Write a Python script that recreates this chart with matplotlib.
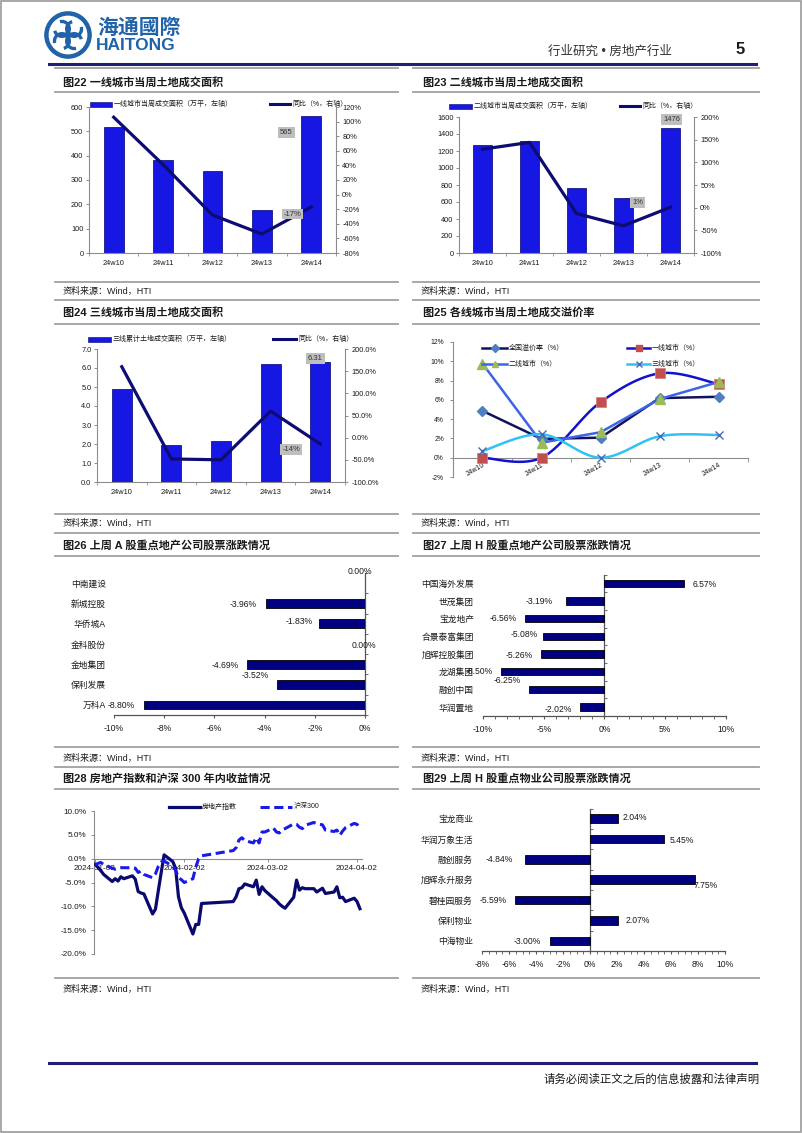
import numpy as np
import pandas as pd
import matplotlib
matplotlib.use("Agg")
import matplotlib.pyplot as plt
import matplotlib.dates as mdates
import matplotlib.ticker as mticker
from matplotlib.patches import Rectangle, Circle, Arc
from matplotlib.lines import Line2D

plt.rcParams['font.family'] = ['Liberation Sans', 'Noto Sans CJK SC', 'DejaVu Sans']
plt.rcParams['axes.unicode_minus'] = False

# ---------------- data ----------------
weeks = ['24w10', '24w11', '24w12', '24w13', '24w14']
t1_area = [517, 381, 339, 176, 565]
t1_yoy = [106, 41, -28, -54, -17]
t2_area = [1271, 1322, 761, 651, 1476]
t2_yoy = [129, 144, -13, -40, 1]
t3_area = [4.89, 1.95, 2.14, 6.19, 6.31]
t3_yoy = [160, -48, -50, 60, -14]

prem_all = [4.86, 1.95, 2.08, 6.18, 6.32]
prem_t1 = [0.0, 0.0, 5.76, 8.75, 7.64]
prem_t2 = [9.76, 1.56, 2.64, 6.08, 7.85]
prem_t3 = [0.69, 2.43, 0.0, 2.22, 2.36]

a_names = ['中南建设', '新城控股', '华侨城A', '金科股份', '金地集团', '保利发展', '万科A']
a_chg = [0.00, -3.96, -1.83, 0.00, -4.69, -3.52, -8.80]

h_names = ['中国海外发展', '世茂集团', '宝龙地产', '合景泰富集团', '旭辉控股集团', '龙湖集团', '融创中国', '华润置地']
h_chg = [6.57, -3.19, -6.56, -5.08, -5.26, -8.50, -6.25, -2.02]

pm_names = ['宝龙商业', '华润万象生活', '融创服务', '旭辉永升服务', '碧桂园服务', '保利物业', '中海物业']
pm_chg = [2.04, 5.45, -4.84, 7.75, -5.59, 2.07, -3.00]

trade_days = ['2024-01-02', '2024-01-03', '2024-01-04', '2024-01-05', '2024-01-08', '2024-01-09',
              '2024-01-10', '2024-01-11', '2024-01-12', '2024-01-15', '2024-01-16', '2024-01-17',
              '2024-01-18', '2024-01-19', '2024-01-22', '2024-01-23', '2024-01-24', '2024-01-25',
              '2024-01-26', '2024-01-29', '2024-01-30', '2024-01-31', '2024-02-01', '2024-02-02',
              '2024-02-05', '2024-02-06', '2024-02-07', '2024-02-08', '2024-02-19', '2024-02-20',
              '2024-02-21', '2024-02-22', '2024-02-23', '2024-02-26', '2024-02-27', '2024-02-28',
              '2024-02-29', '2024-03-01', '2024-03-04', '2024-03-05', '2024-03-06', '2024-03-07',
              '2024-03-08', '2024-03-11', '2024-03-12', '2024-03-13', '2024-03-14', '2024-03-15',
              '2024-03-18', '2024-03-19', '2024-03-20', '2024-03-21', '2024-03-22', '2024-03-25',
              '2024-03-26', '2024-03-27', '2024-03-28', '2024-03-29', '2024-04-01', '2024-04-02',
              '2024-04-03']
re_index = [-1.2, -1.8, -2.5, -3.3, -4.8, -4.2, -4.7, -3.8, -4.2, -3.6, -4.3, -6.9, -7.2, -7.4,
            -11.6, -10.6, -6.7, -2.9, 0.8, -0.6, -2.0, -8.0,
            -10.3, -11.4, -15.8, -13.8, -13.8, -9.4, -9.0, -8.0, -6.3, -6.1, -5.3, -5.9, -4.5, -7.5, -5.9,
            -6.7, -8.3, -8.8, -9.5, -10.0, -10.4, -8.1, -4.5, -6.6, -6.1, -6.3, -6.3, -7.0, -6.6, -6.2, -7.3,
            -7.0, -5.9, -8.2, -8.1, -9.0,
            -8.3, -9.0, -10.5]
csi300 = [-1.3, -1.0, -0.8, -1.2, -2.0, -2.2, -2.0, -1.9, -1.9, -1.9, -2.0, -2.9, -2.6, -3.3,
          -4.0, -3.2, -1.6, -0.7, -0.5, -1.6, -2.4, -4.0,
          -4.4, -5.0, -4.2, -1.8, 0.0, 0.6, 1.7, 2.3, 3.9, 4.4, 3.8, 3.3, 4.4, 3.3, 5.6,
          5.6, 6.4, 5.6, 5.4, 6.0, 6.3, 7.3, 7.2, 6.6, 6.3, 7.0, 7.6, 7.3, 7.2, 7.1, 6.0,
          5.7, 6.0, 4.9, 5.8, 6.5,
          7.4, 7.2, 6.2]

# ---------------- helpers ----------------
W, H = 802, 1133
fig = plt.figure(figsize=(W / 100, H / 100), dpi=100)

NAVY = '#0C0C72'
BAR_BLUE = '#1717E3'
GREY = '#A0A0A0'
AXC = '#8C8C8C'
TXT = '#1A1A1A'
LOGO = '#2063A8'


def fx(x):
    return x / W


def fy(y):
    return 1 - y / H


def add_ax(x0, y0, x1, y1):
    return fig.add_axes([x0 / W, 1 - y1 / H, (x1 - x0) / W, (y1 - y0) / H])


def hline(x0, x1, y, color=GREY, lw=1.3):
    fig.add_artist(Line2D([fx(x0), fx(x1)], [fy(y), fy(y)], color=color, lw=lw))


def ftext(x, y, s, **kw):
    kw.setdefault('va', 'center')
    kw.setdefault('color', TXT)
    fig.text(fx(x), fy(y), s, **kw)


def leg_bar(x0, x1, y, label, color=BAR_BLUE):
    fig.add_artist(Rectangle((fx(x0), fy(y + 2.5)), (x1 - x0) / W, 5 / H, fc=color, ec='#000070', lw=0.4))
    ftext(x1 + 2, y, label, fontsize=5)


def leg_line(x0, x1, y, label, color=NAVY, lw=2.2, ls='-', marker=None, mfc=None, ms=5):
    fig.add_artist(Line2D([fx(x0), fx(x1)], [fy(y), fy(y)], color=color, lw=lw, ls=ls))
    if marker:
        fig.add_artist(Line2D([fx((x0 + x1) / 2)], [fy(y)], marker=marker, ms=ms,
                              mfc=mfc, mec=mfc, color=mfc, lw=0))
    ftext(x1 + 2, y, label, fontsize=5)


def style_axis(ax, fs=5.3):
    for s in ax.spines.values():
        s.set_color(AXC)
        s.set_linewidth(0.8)
    ax.tick_params(colors=AXC, labelcolor=TXT, labelsize=fs, length=2.5, width=0.7)
    ax.set_facecolor('none')


def smooth(xs, ys, n=24):
    # Excel-like smoothed line (Bezier through the points)
    pts = np.column_stack([xs, ys]).astype(float)
    out = [pts[0]]
    for i in range(len(pts) - 1):
        p0 = pts[i - 1] if i > 0 else pts[i]
        p1, p2 = pts[i], pts[i + 1]
        p3 = pts[i + 2] if i + 2 < len(pts) else pts[i + 1]
        b1 = p1 + (p2 - p0) / 6
        b2 = p2 - (p3 - p1) / 6
        t = np.linspace(0, 1, n)[1:, None]
        seg = (1 - t) ** 3 * p1 + 3 * (1 - t) ** 2 * t * b1 + 3 * (1 - t) * t ** 2 * b2 + t ** 3 * p2
        out.extend(seg)
    return np.array(out)


gbox = dict(boxstyle='square,pad=0.25', fc='#BEBEBE', ec='none')

# ---------------- header / footer ----------------
fig.add_artist(Rectangle((0.001, 0.001), 0.998, 0.998, fill=False, ec='#9A9A9A', lw=1.2))
lax = add_ax(43, 11, 93, 59)
lax.set_xlim(-1, 1)
lax.set_ylim(-1, 1)
lax.set_aspect('equal')
lax.axis('off')
lax.add_patch(Circle((0, 0), 0.9, fill=False, ec=LOGO, lw=3.2))
for ang in [45, 135, 225, 315]:
    cx, cy = 0.36 * np.cos(np.radians(ang)), 0.36 * np.sin(np.radians(ang))
    lax.add_patch(Arc((cx, cy), 0.62, 0.62, angle=ang, theta1=60, theta2=330, color=LOGO, lw=2.4))
lax.add_patch(Circle((0, 0), 0.12, color=LOGO))
ftext(97, 27, '海通國際', fontsize=15, fontweight='bold', color=LOGO, family=['Noto Sans CJK SC'])
ftext(96, 45, 'HAITONG', fontsize=12.5, fontweight='bold', color=LOGO, family=['Liberation Sans'])
ftext(672, 52, '行业研究 • 房地产行业', fontsize=9, ha='right', color='#333333')
ftext(740, 50, '5', fontsize=12, ha='center', fontweight='bold')
hline(49, 756, 64, color='#1F1F78', lw=2.2)
hline(49, 756, 1063, color='#1F1F78', lw=2.2)
ftext(760, 1079, '请务必阅读正文之后的信息披露和法律声明', fontsize=8.2, ha='right')

# panel frame lines
for (px0, px1) in [(55, 398), (413, 759)]:
    for yy in [68, 92, 282, 300, 324, 514, 533, 556, 747, 767, 789, 978]:
        hline(px0, px1, yy)
    for yy in [291, 523, 758, 989]:
        ftext(px0 + 8, yy, '资料来源：Wind，HTI', fontsize=6.5)

titles = [(63, 82, '图22 一线城市当周土地成交面积'), (423, 82, '图23 二线城市当周土地成交面积'),
          (63, 312, '图24 三线城市当周土地成交面积'), (423, 312, '图25 各线城市当周土地成交溢价率'),
          (63, 545, '图26 上周 A 股重点地产公司股票涨跌情况'), (423, 545, '图27 上周 H 股重点地产公司股票涨跌情况'),
          (63, 778, '图28 房地产指数和沪深 300 年内收益情况'), (423, 778, '图29 上周 H 股重点物业公司股票涨跌情况')]
for tx, ty, s in titles:
    ftext(tx, ty, s, fontsize=8, fontweight='bold')

x5 = np.arange(len(weeks))


def combo(box, area, yoy, lim1, step1, lim2, step2, fmt1, fmt2, labs):
    ax = add_ax(*box)
    ax.bar(x5, area, width=0.4, color=BAR_BLUE, edgecolor='#000070', lw=0.5, zorder=2)
    ax.set_xlim(-0.5, 4.5)
    ax.set_ylim(*lim1)
    ax.set_yticks(np.arange(lim1[0], lim1[1] + step1 / 2, step1))
    ax.yaxis.set_major_formatter(mticker.FuncFormatter(lambda v, p: fmt1.format(v)))
    ax.set_xticks(x5)
    ax.set_xticklabels(weeks)
    ax.set_xticks(np.arange(-0.5, 5, 1), minor=True)
    ax2 = ax.twinx()
    ax2.plot(x5, yoy, color=NAVY, lw=2.3, zorder=3)
    ax2.set_ylim(*lim2)
    ax2.set_yticks(np.arange(lim2[0], lim2[1] + step2 / 2, step2))
    ax2.yaxis.set_major_formatter(mticker.FuncFormatter(lambda v, p: fmt2.format(v)))
    for a in (ax, ax2):
        style_axis(a)
        a.spines['top'].set_visible(False)
    ax.spines['right'].set_visible(False)
    ax2.spines['left'].set_visible(False)
    ax2.spines['bottom'].set_visible(False)
    ax.tick_params(axis='x', which='major', length=0, pad=5)
    ax.tick_params(axis='x', which='minor', length=2.5, color=AXC)
    ax.tick_params(axis='y', pad=1.5)
    ax2.tick_params(axis='y', pad=2)
    for (which, xi, val, s, dx, dy) in labs:
        a = ax if which == 1 else ax2
        a.annotate(s, (xi, val), xytext=(dx, dy), textcoords='offset pixels', ha='center', va='center',
                   fontsize=5.5, color='#333333', bbox=gbox, zorder=5)
    return ax, ax2


combo((89, 107, 336, 253), t1_area, t1_yoy, (0, 600), 100, (-80, 120), 20, '{:.0f}', '{:.0f}%',
      [(1, 4, t1_area[4], '{:.0f}'.format(t1_area[4]), -25, -17), (2, 4, t1_yoy[4], '{:.0f}%'.format(t1_yoy[4]), -19, -7)])
leg_bar(90, 112, 104, '一线城市当周成交面积（万平，左轴）')
leg_line(270, 290, 104, '同比（%，右轴）')

combo((459, 117, 694, 253), t2_area, t2_yoy, (0, 1600), 200, (-100, 200), 50, '{:.0f}', '{:.0f}%',
      [(1, 4, t2_area[4], '{:.0f}'.format(t2_area[4]), 1, 8), (2, 3, 1, '1%', 14, 5)])
leg_bar(449, 472, 106, '二线城市当周成交面积（万平，左轴）')
leg_line(620, 640, 106, '同比（%，右轴）')

combo((97, 349, 345, 482), t3_area, t3_yoy, (0, 7), 1, (-100, 200), 50, '{:.1f}', '{:.1f}%',
      [(1, 4, t3_area[4], '{:.2f}'.format(t3_area[4]), -5, 4), (2, 4, t3_yoy[4], '{:.0f}%'.format(t3_yoy[4]), -29, -6)])
leg_bar(88, 111, 339, '三线累计土地成交面积（万平，左轴）')
leg_line(273, 296, 339, '同比（%，右轴）')

# ---------------- fig25 premium rate ----------------
ax = add_ax(453, 342, 748, 477)
style_axis(ax, fs=4.9)
c_all, c_t1, c_t2, c_t3 = '#12125C', '#1212CC', '#3D63E6', '#2EC2F5'
m_all, m_t1, m_t2, m_t3 = '#4F7FC0', '#C0504D', '#9BBB59', '#4A68B5'
ax.plot(x5, prem_all, color=c_all, lw=1.8, zorder=3)
s1 = smooth(x5, prem_t1)
ax.plot(s1[:, 0], s1[:, 1], color=c_t1, lw=1.8, zorder=3)
ax.plot(x5, prem_t2, color=c_t2, lw=1.8, zorder=3)
s3 = smooth(x5, prem_t3)
ax.plot(s3[:, 0], s3[:, 1], color=c_t3, lw=1.8, zorder=3)
ax.plot(x5, prem_all, ls='none', marker='D', ms=5, mfc=m_all, mec=m_all, zorder=4)
ax.plot(x5, prem_t1, ls='none', marker='s', ms=7, mfc=m_t1, mec='#D88080', mew=0.6, zorder=4)
ax.plot(x5, prem_t2, ls='none', marker='^', ms=7, mfc=m_t2, mec=m_t2, zorder=4)
ax.plot(x5, prem_t3, ls='none', marker='x', ms=6, mew=1.0, color=m_t3, zorder=4)
ax.set_xlim(-0.5, 4.5)
ax.set_ylim(-2, 12)
ax.set_yticks(np.arange(-2, 13, 2))
ax.yaxis.set_major_formatter(mticker.FuncFormatter(lambda v, p: '{:.0f}%'.format(v)))
ax.spines['top'].set_visible(False)
ax.spines['right'].set_visible(False)
ax.spines['bottom'].set_position(('data', 0))
ax.set_xticks(x5)
ax.set_xticklabels(weeks, rotation=30, ha='right', rotation_mode='anchor')
ax.set_xticks(np.arange(-0.5, 5, 1), minor=True)
ax.tick_params(axis='x', which='major', length=0, pad=3)
ax.tick_params(axis='x', which='minor', length=3, color=AXC)
ax.tick_params(axis='y', pad=4)
leg_line(482, 507, 348, '全国溢价率（%）', color=c_all, lw=1.8, marker='D', mfc=m_all, ms=4)
leg_line(627, 650, 348, '一线城市（%）', color=c_t1, lw=1.8, marker='s', mfc=m_t1, ms=5)
leg_line(482, 507, 364, '二线城市（%）', color=c_t2, lw=1.8, marker='^', mfc=m_t2, ms=5)
leg_line(627, 650, 364, '三线城市（%）', color=c_t3, lw=1.8, marker='x', mfc=m_t3, ms=5)


# ---------------- horizontal bar charts ----------------
def hbar(box, names, vals, xlim, major, minor, offs, lab_pad):
    ax = add_ax(*box)
    n = len(names)
    y = np.arange(n)
    ax.barh(y, vals, height=0.42, color='#000080', edgecolor='#000000', lw=0.6, zorder=3)
    ax.set_ylim(n - 0.5, -0.5)
    ax.set_xlim(*xlim)
    ax.set_xticks(np.arange(xlim[0], xlim[1] + 0.01, major))
    if minor:
        ax.set_xticks(np.arange(xlim[0], xlim[1] + 0.01, minor), minor=True)
    ax.xaxis.set_major_formatter(mticker.FuncFormatter(lambda v, p: '{:.0f}%'.format(v)))
    for s in ax.spines.values():
        s.set_color('#555555')
        s.set_linewidth(0.9)
    ax.spines['top'].set_visible(False)
    ax.spines['left'].set_visible(False)
    ax.spines['right'].set_position(('data', 0))
    ax.set_yticks(y)
    ax.set_yticklabels(names)
    ax.set_yticks(np.arange(-0.5, n, 1), minor=True)
    ax.tick_params(axis='y', which='major', left=False, right=False, length=0,
                   labelsize=6.3, labelcolor=TXT, pad=lab_pad)
    ax.tick_params(axis='y', which='minor', left=False, right=True, direction='out', length=2.5, color='#555555')
    ax.tick_params(axis='x', which='both', labelsize=6.2, labelcolor=TXT, color='#555555', length=2.5, pad=4)
    ax.tick_params(axis='x', which='minor', length=2)
    ax.set_facecolor('none')
    for i, v in enumerate(vals):
        dx, dy, ha = offs[i]
        ax.annotate('{:.2f}%'.format(v), (v, i), xytext=(dx, dy), textcoords='offset pixels',
                    ha=ha, va='center', fontsize=6.2, color=TXT, zorder=5)
    return ax


a_offs = [(-5, 12, 'center'), (-9, -1, 'right'), (-6, 2, 'right'), (-1, -2, 'center'),
          (-9, -1, 'right'), (-8, 9, 'right'), (-9, -1, 'right')]
hbar((114, 573, 365, 715), a_names, a_chg, (-10, 0), 2, None, a_offs, 5.8)

h_offs = [(8, -1, 'left'), (-13, 0, 'right'), (-8, 0, 'right'), (-5, 2, 'right'),
          (-8, -1, 'right'), (-8, 0, 'right'), (-8, 9, 'right'), (-8, -2, 'right')]
hbar((483, 574.5, 726, 716), h_names, h_chg, (-10, 10), 5, 1, h_offs, 6.5)

pm_offs = [(5, 1, 'left'), (6, -1, 'left'), (-12, 0, 'right'), (-1, -6, 'left'),
           (-8, 0, 'right'), (8, 0, 'left'), (-9, -1, 'right')]
hbar((482, 808.5, 725, 951), pm_names, pm_chg, (-8, 10), 2, 0.5, pm_offs, 6.5)

# ---------------- fig28 index returns ----------------
df = pd.DataFrame({'date': pd.to_datetime(trade_days), 're': re_index, 'csi': csi300})
ax = add_ax(94, 811, 362, 954)
style_axis(ax, fs=5.9)
ax.plot(df['date'], df['re'], color='#0A0A6E', lw=2.3, zorder=3)
ax.plot(df['date'], df['csi'], color='#1A1AE6', lw=2.2, ls=(0, (3.0, 1.5)), zorder=3)
x_left = pd.Timestamp('2024-01-02') - pd.Timedelta(hours=8)
ax.set_xlim(x_left, x_left + pd.Timedelta(days=93.05))
ax.set_ylim(-20, 10)
ax.set_yticks(np.arange(-20, 11, 5))
ax.yaxis.set_major_formatter(mticker.FuncFormatter(lambda v, p: '{:.1f}%'.format(v)))
ax.xaxis.set_major_locator(mdates.MonthLocator(bymonthday=2))
ax.xaxis.set_major_formatter(mdates.DateFormatter('%Y-%m-%d'))
ax.spines['top'].set_visible(False)
ax.spines['right'].set_visible(False)
ax.spines['bottom'].set_position(('data', 0))
ax.tick_params(axis='x', pad=2, length=2.5)
ax.tick_params(axis='y', pad=3)
leg_line(169, 200, 807, '房地产指数', color='#0A0A6E', lw=2.3)
leg_line(260, 292, 807, '沪深300', color='#1A1AE6', lw=2.2, ls=(0, (3.0, 1.5)))

fig.savefig('out.png', dpi=100)
